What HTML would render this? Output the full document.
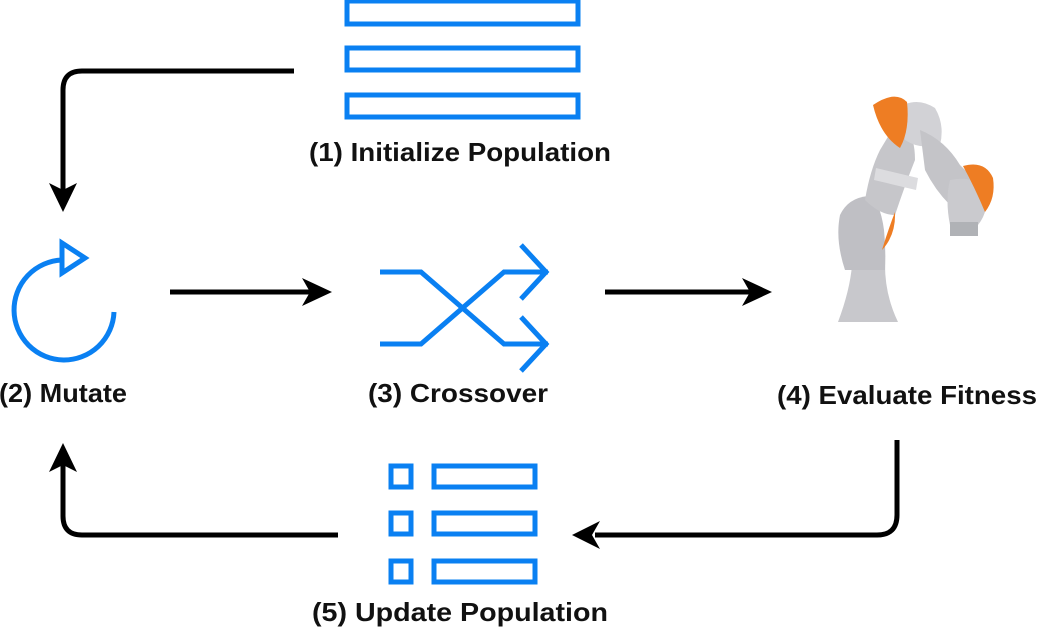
<!DOCTYPE html>
<html><head><meta charset="utf-8"><style>
html,body{margin:0;padding:0;background:#fff;}
svg{display:block;}
text{font-family:"Liberation Sans",Arial,sans-serif;font-weight:bold;font-size:26px;fill:#111;}
</style></head><body>
<svg width="1043" height="630" viewBox="0 0 1043 630" xmlns="http://www.w3.org/2000/svg">
<g fill="none" stroke="#0a80f2" stroke-width="5">
  <rect x="347" y="1" width="231" height="23"/>
  <rect x="347" y="48" width="231" height="22"/>
  <rect x="347" y="95" width="231" height="22"/>
  <path d="M62 260 A50 50 0 1 0 114 312"/>
  <path d="M62 243 L62 273 L85 258 Z"/>
  <path d="M380 272 L421 272 L504 344 L548 344"/>
  <path d="M380 344 L421 344 L504 272 L548 272"/>
  <path d="M521 245 L546 272 L521 299"/>
  <path d="M521 317 L546 344 L521 371"/>
  <rect x="391" y="466" width="20" height="21"/>
  <rect x="391" y="513" width="20" height="21"/>
  <rect x="391" y="561" width="20" height="21"/>
  <rect x="434" y="466" width="101" height="21"/>
  <rect x="434" y="513" width="101" height="21"/>
  <rect x="434" y="561" width="101" height="21"/>
</g>
<g fill="none" stroke="#000" stroke-width="5">
  <path d="M294 71 L82 71 Q63 71 63 90 L63 190"/>
  <path d="M170 292 L310 292"/>
  <path d="M605 292 L750 292"/>
  <path d="M897 440 L897 515 Q897 535 877 535 L595 535"/>
  <path d="M338 535 L82 535 Q63 535 63 516 L63 465"/>
</g>
<g fill="#000">
  <path d="M49 183 L63 212 L77 183 L63 190 Z"/>
  <path d="M302 278 L332 292 L302 306 L310 292 Z"/>
  <path d="M742 278 L772 292 L742 306 L750 292 Z"/>
  <path d="M600 521 L572 535 L600 549 L592 535 Z"/>
  <path d="M49 472 L63 443 L77 472 L63 465 Z"/>
</g>
<!-- robot -->
<g>
  <!-- base -->
  <path d="M838 322 Q850 290 852 265 L885 265 Q885 295 898 322 Z" fill="#c8c8cc"/>
  <!-- lower link -->
  <path d="M845 270 Q835 240 840 215 Q848 198 868 196 Q880 200 884 230 Q886 250 885 270 Z" fill="#bfbfc4"/>
  <!-- upper link -->
  <path d="M865 200 Q870 170 880 150 L898 120 Q915 130 915 160 Q905 185 895 215 Q880 215 865 200 Z" fill="#c6c6ca"/>
  <path d="M876 168 L918 178 L916 190 L874 180 Z" fill="#dcdcdf"/>
  <!-- shoulder/elbow -->
  <path d="M895 110 Q915 95 935 108 Q945 125 940 145 Q920 150 905 140 Z" fill="#d2d2d6"/>
  <!-- forearm -->
  <path d="M920 130 Q945 140 960 165 L975 180 Q965 200 950 205 Q935 190 925 170 Z" fill="#c4c4c8"/>
  <path d="M950 180 Q975 175 985 190 Q990 210 978 225 L950 225 Q945 200 950 180 Z" fill="#cacace"/>
  <rect x="950" y="222" width="28" height="14" fill="#b0b2b6"/>
  <path d="M873 105 Q895 90 907 102 Q910 130 900 148 Q880 135 873 105 Z" fill="#ee7d23"/>
  <path d="M963 166 Q985 160 993 178 Q996 198 985 212 Q975 188 963 166 Z" fill="#ee7d23"/>
  <path d="M895 212 Q896 235 882 250 Q888 230 895 212 Z" fill="#ee7d23"/>
</g>
<text x="460" y="161" text-anchor="middle" textLength="302" lengthAdjust="spacingAndGlyphs">(1) Initialize Population</text>
<text x="63" y="402" text-anchor="middle" textLength="128" lengthAdjust="spacingAndGlyphs">(2) Mutate</text>
<text x="458" y="402" text-anchor="middle" textLength="180" lengthAdjust="spacingAndGlyphs">(3) Crossover</text>
<text x="907" y="404" text-anchor="middle" textLength="260" lengthAdjust="spacingAndGlyphs">(4) Evaluate Fitness</text>
<text x="460" y="621" text-anchor="middle" textLength="296" lengthAdjust="spacingAndGlyphs">(5) Update Population</text>
</svg>
</body></html>
